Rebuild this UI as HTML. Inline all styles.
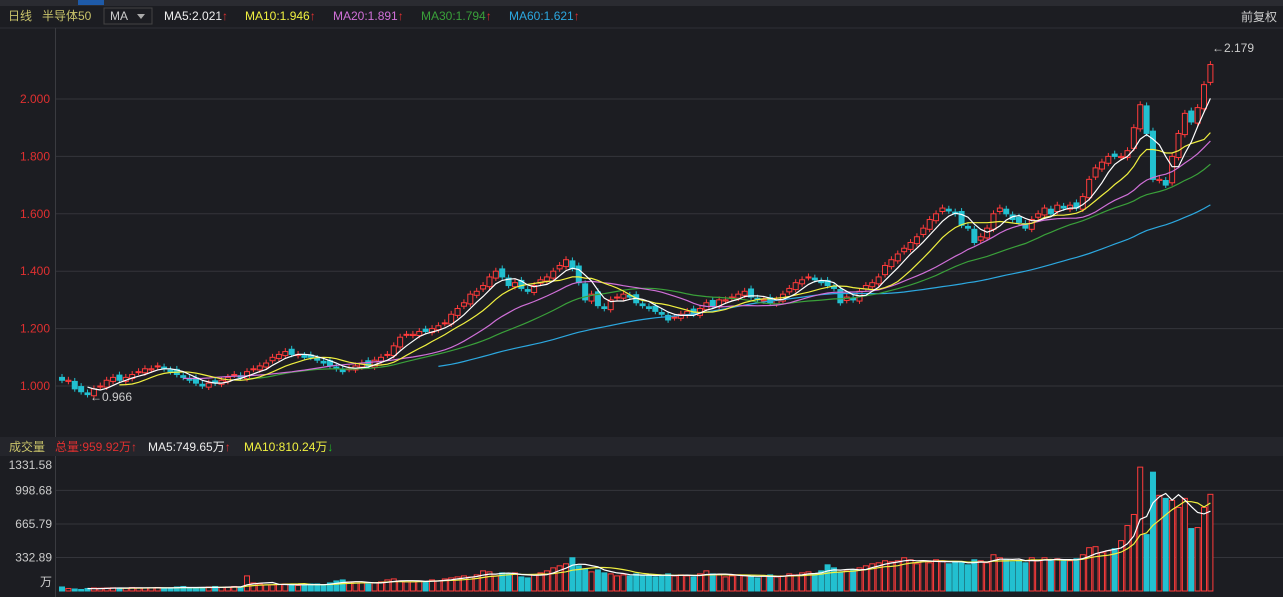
<!DOCTYPE html>
<html><head><meta charset="utf-8"><style>
body{margin:0;background:#1c1d22;width:1283px;height:597px;overflow:hidden;font-family:"Liberation Sans","Noto Sans CJK SC",sans-serif}
svg{display:block}
</style></head><body>
<svg id="c" width="1283" height="597" xmlns="http://www.w3.org/2000/svg">
<rect x="0" y="0" width="1283" height="597" fill="#1c1d22"/>
<rect x="0" y="0" width="1283" height="6" fill="#2a2b31"/>
<rect x="78" y="0" width="26" height="5" fill="#1e5aa8"/>
<g font-size="12">
<text x="8" y="20" fill="#c9c36a">日线</text>
<text x="42" y="20" fill="#c9c36a">半导体50</text>
<rect x="104" y="8" width="48" height="16" fill="#1c1d22" stroke="#444"/>
<text x="110" y="20" fill="#ccc">MA</text>
<path d="M137 14 L145 14 L141 19 Z" fill="#aaa"/>
<text x="164" y="20" fill="#eee">MA5:2.021<tspan fill="#e03030">↑</tspan></text>
<text x="245" y="20" fill="#f0f040">MA10:1.946<tspan fill="#e03030">↑</tspan></text>
<text x="333" y="20" fill="#d070d8">MA20:1.891<tspan fill="#e03030">↑</tspan></text>
<text x="421" y="20" fill="#3aa03a">MA30:1.794<tspan fill="#e03030">↑</tspan></text>
<text x="509" y="20" fill="#2ca8e0">MA60:1.621<tspan fill="#e03030">↑</tspan></text>
<text x="1241" y="21" fill="#ccc">前复权</text>
</g>
<line x1="0" y1="28" x2="1283" y2="28" stroke="#2e2f35"/>
<line x1="55.5" y1="28" x2="55.5" y2="437" stroke="#3a3b40"/>
<rect x="0" y="437" width="1283" height="19" fill="#24252b"/>
<g font-size="12">
<text x="9" y="451" fill="#c9c36a">成交量</text>
<text x="55" y="451" fill="#e03030">总量:959.92万↑</text>
<text x="148" y="451" fill="#eee">MA5:749.65万<tspan fill="#e03030">↑</tspan></text>
<text x="244" y="451" fill="#f0f040">MA10:810.24万<tspan fill="#20c020">↓</tspan></text>
</g>
<line x1="55.5" y1="456" x2="55.5" y2="597" stroke="#3a3b40"/>
<g id="grid"></g><g id="vol"></g><g id="candles"></g><g id="lines"></g>
</svg>
<script>
const closes=[1.02,1.02,0.99,0.98,0.97,
0.99,1.00,1.02,1.03,1.02,1.03,1.04,1.05,1.06,1.06,1.07,1.06,1.05,
1.04,1.03,1.02,1.01,1.00,1.01,1.01,1.02,
1.03,1.04,1.03,1.05,1.06,1.07,1.08,1.10,1.11,1.12,1.11,
1.11,1.10,1.10,1.09,1.08,1.07,1.06,
1.05,1.06,1.07,1.08,1.07,1.09,1.10,1.11,1.14,
1.17,1.18,1.18,1.19,1.19,1.20,1.21,1.22,1.25,1.27,1.29,
1.32,1.33,1.35,1.38,1.40,1.38,1.35,1.36,
1.34,1.33,1.35,1.37,1.38,1.40,1.42,1.44,1.41,
1.36,1.30,1.32,1.28,1.27,1.30,1.31,
1.32,1.31,1.29,1.28,1.27,1.26,1.25,1.23,1.24,
1.25,1.26,1.25,1.27,1.29,1.28,1.30,1.30,1.31,1.32,
1.33,1.31,1.30,1.30,1.29,1.30,1.32,1.34,1.36,
1.37,1.38,1.37,1.36,1.35,1.34,1.29,1.31,
1.30,1.33,1.35,1.36,1.38,1.42,
1.44,1.46,1.48,1.50,1.52,1.55,1.58,1.60,1.62,1.61,1.60,1.56,1.55,
1.50,1.52,1.55,1.60,1.62,1.60,1.58,
1.57,1.55,1.58,1.60,1.62,1.60,1.63,1.62,1.63,
1.62,1.66,1.72,1.76,1.78,1.80,1.80,1.80,1.82,1.90,
1.98,1.88,1.72,1.72,1.70,1.80,1.88,1.95,1.92,1.97,2.05,2.12];
const volumes=[40,25,20,15,25,30,28,30,32,30,30,35,32,30,30,35,30,28,
40,45,30,30,35,40,45,35,40,45,40,150,80,70,60,60,65,70,60,
55,60,70,70,60,80,100,110,90,80,80,70,80,90,110,120,
100,90,90,100,95,110,100,120,130,140,150,
140,160,200,190,150,180,170,180,
140,130,160,180,200,230,250,270,330,
250,220,190,210,180,170,150,
160,150,170,160,150,140,160,170,150,
160,150,140,170,200,170,160,140,150,160,
150,140,130,150,160,140,150,170,160,
180,190,170,200,260,230,180,200,
210,230,250,270,280,300,
290,300,330,310,270,300,280,310,300,270,290,280,260,
310,300,280,360,330,310,290,
300,280,330,300,330,300,320,310,300,
320,360,430,440,380,400,420,500,650,760,
1230,560,1180,950,920,900,830,920,620,630,830,960];
const xs=i=>62+i*6.38;
const yP=v=>386-(v-1)*287;
const yV=v=>591-v*0.1007;
const NS='http://www.w3.org/2000/svg';
function mk(tag,attrs,parent){const e=document.createElementNS(NS,tag);for(const k in attrs)e.setAttribute(k,attrs[k]);parent.appendChild(e);return e;}
const grid=document.getElementById('grid');
const priceTicks=[1.0,1.2,1.4,1.6,1.8,2.0];
priceTicks.forEach(t=>{const g=mk('g',{},grid);


mk('line',{x1:56,x2:1283,y1:yP(t),y2:yP(t),stroke:'#34353b'},g);
const tx=mk('text',{x:50,y:yP(t)+4,'text-anchor':'end','font-size':12,fill:'#e03030'},g);tx.textContent=t.toFixed(3);});
const volTicks=[332.89,665.79,998.68,1331.58];
volTicks.forEach(t=>{const g=mk('g',{},grid);


if(t<1331)mk('line',{x1:56,x2:1283,y1:yV(t),y2:yV(t),stroke:'#34353b'},g);
const tx=mk('text',{x:52,y:Math.max(yV(t)+4,469),'text-anchor':'end','font-size':12,fill:'#ccc'},g);tx.textContent=t.toFixed(2);});
const wan=mk('text',{x:52,y:586,'text-anchor':'end','font-size':12,fill:'#ccc'},grid);wan.textContent='万';


const cg=document.getElementById('candles'),vg=document.getElementById('vol');
const RED='#ff3b3b',TEAL='#22c0d0';
closes.forEach((c,i)=>{const o=i?closes[i-1]+(i%3===0?0.008:-0.004):c+0.01;const up=c>=o;const col=up?RED:TEAL;const x=xs(i);
const hi=Math.max(o,c)+0.012,lo=Math.min(o,c)-0.01;
const g=mk('g',{},cg);


mk('line',{x1:x,x2:x,y1:yP(hi),y2:yP(lo),stroke:col},g);
const top=yP(Math.max(o,c)),h=Math.max(1,yP(Math.min(o,c))-top);
mk('rect',{x:x-2.5,y:top,width:5,height:h,fill:up?'#1c1d22':TEAL,stroke:col,'stroke-width':1},g);
const v=volumes[i];const vb=mk('rect',{x:x-2.5,y:yV(v),width:5,height:591-yV(v),fill:up?'#1c1d22':TEAL,stroke:col},vg);

});
const lg=document.getElementById('lines');
function ma(arr,n,yf,color,name){let d='';arr.forEach((_,i)=>{if(i<n-1)return;let s=0;for(let k=i-n+1;k<=i;k++)s+=arr[k];d+=(d?'L':'M')+xs(i).toFixed(1)+' '+yf(s/n).toFixed(1);});
const p=mk('path',{d:d,fill:'none',stroke:color,'stroke-width':1.2},lg);

}
ma(closes,60,yP,'#2ca8e0','ma60-line');ma(closes,30,yP,'#3aa03a','ma30-line');ma(closes,20,yP,'#d070d8','ma20-line');ma(closes,10,yP,'#f0f040','ma10-line');ma(closes,5,yP,'#ffffff','ma5-line');
ma(volumes,10,yV,'#f0f040','vol-ma10-line');ma(volumes,5,yV,'#ffffff','vol-ma5-line');
const hl=mk('text',{x:1212,y:52,'font-size':12,fill:'#ccc'},lg);hl.textContent='←2.179';


const ll=mk('text',{x:90,y:401,'font-size':12,fill:'#ccc'},lg);ll.textContent='←0.966';


</script>
</body></html>
